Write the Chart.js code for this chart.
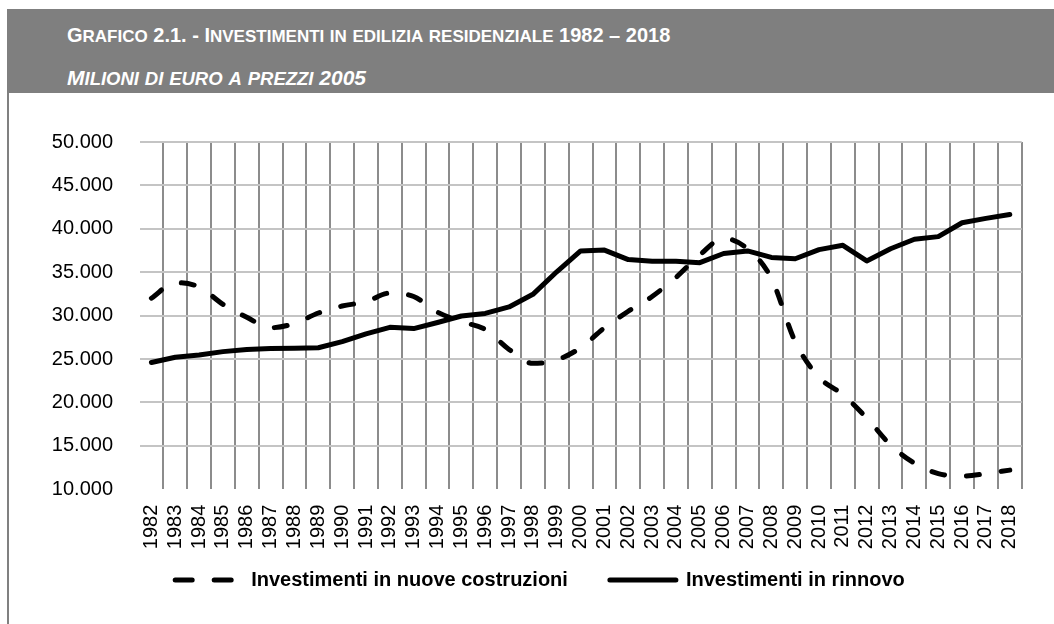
<!DOCTYPE html>
<html>
<head>
<meta charset="utf-8">
<script src="https://cdn.jsdelivr.net/npm/chart.js@4.4.1/dist/chart.umd.min.js"></script>
<style>
  body { margin: 0; background: #fff; }
  #wrap { position: absolute; left: 0; top: 0; width: 1054px; height: 624px; }
  #hdr {
    position: absolute; left: 7px; top: 9px; width: 1047px; height: 84px;
    background: #7f7f7f; color: #fff;
    font-family: "Liberation Sans", Arial, sans-serif; font-weight: bold;
  }
  #hdr .t1 { position: absolute; left: 60px; top: 16px; font-size: 20px; line-height: 20px; white-space: nowrap; }
  #hdr .t2 { position: absolute; left: 60px; top: 58px; font-size: 21px; line-height: 21px; font-style: italic; white-space: nowrap; }
  #hdr .t1 .sc { font-size: 17px; text-transform: uppercase; }
  #hdr .t2 .sc { font-size: 18.5px; text-transform: uppercase; }
  #side { position: absolute; left: 7px; top: 93px; width: 2px; height: 531px; background: #808080; }
  canvas { position: absolute; left: 0; top: 0; }
</style>
</head>
<body>
<div id="wrap">
  <canvas id="myChart" width="1054" height="624"></canvas>
  <div id="hdr">
    <div class="t1" id="title"></div>
    <div class="t2" id="subtitle"></div>
  </div>
  <div id="side"></div>
</div>
<script>
const titleText = "Grafico 2.1. - Investimenti in edilizia residenziale 1982 – 2018";
const subtitleText = "Milioni di euro a prezzi 2005";

// Categories (years)
const years = ["1982", "1983", "1984", "1985", "1986", "1987", "1988", "1989", "1990", "1991",
  "1992", "1993", "1994", "1995", "1996", "1997", "1998", "1999", "2000", "2001",
  "2002", "2003", "2004", "2005", "2006", "2007", "2008", "2009", "2010", "2011",
  "2012", "2013", "2014", "2015", "2016", "2017", "2018"];

// Milioni di euro a prezzi 2005
const nuoveCostruzioni = [32000, 33800, 33300, 31300, 29800, 28600, 29100, 30300, 31100, 31600,
  32600, 32200, 30400, 29300, 28400, 26100, 24500, 24900, 26300, 28600,
  30500, 32200, 34400, 37000, 38900, 37700, 34300, 27000, 22900, 20900,
  18200, 15100, 13000, 11800, 11500, 11800, 12200];
const rinnovo = [24600, 25200, 25450, 25850, 26100, 26200, 26250, 26300, 27000, 27900,
  28650, 28500, 29200, 29950, 30250, 31000, 32450, 35050, 37450, 37550,
  36450, 36250, 36250, 36100, 37150, 37450, 36700, 36550, 37600, 38100,
  36300, 37700, 38800, 39100, 40700, 41200, 41650];

// y axis ticks
const yMin = 10000;
const yMax = 50000;
const yStep = 5000;

const seriesNames = ["Investimenti in nuove costruzioni", "Investimenti in rinnovo"];

// small caps like the original: lowercase runs set smaller and uppercased
function fillSmallCaps(el, text) {
  const runs = text.match(/[a-zà-ù]+|[^a-zà-ù]+/g);
  runs.forEach((r) => {
    const span = document.createElement("span");
    if (/[a-zà-ù]/.test(r)) span.className = "sc";
    span.textContent = r;
    el.appendChild(span);
  });
}
fillSmallCaps(document.getElementById("title"), titleText);
fillSmallCaps(document.getElementById("subtitle"), subtitleText);

function formatThousands(v) {
  return String(v).replace(/\B(?=(\d{3})+(?!\d))/g, ".");
}

const fontFamily = '"Liberation Sans", Arial, sans-serif';

// move the legend box a little (it sits under the axis labels in the original)
const legendShift = {
  id: "legendShift",
  afterLayout(chart) {
    const l = chart.legend;
    const dx = 9.15, dy = -24;
    l.left += dx; l.right += dx;
    l.top += dy; l.bottom += dy;
  },
};

const ctx = document.getElementById("myChart").getContext("2d");
const myChart = new Chart(ctx, {
  type: "line",
  data: {
    labels: years,
    datasets: [
      {
        label: seriesNames[0],
        data: nuoveCostruzioni,
        borderColor: "#000",
        backgroundColor: "#000",
        borderWidth: 5,
        borderDash: [13, 22],
        borderCapStyle: "round",
        borderJoinStyle: "round",
        cubicInterpolationMode: "monotone",
        pointRadius: 0,
        fill: false,
      },
      {
        label: seriesNames[1],
        data: rinnovo,
        borderColor: "#000",
        backgroundColor: "#000",
        borderWidth: 5,
        borderCapStyle: "round",
        borderJoinStyle: "round",
        tension: 0,
        pointRadius: 0,
        fill: false,
      },
    ],
  },
  plugins: [legendShift],
  options: {
    responsive: false,
    animation: false,
    devicePixelRatio: 1,
    layout: {
      padding: { top: 142, right: 32.3, bottom: 0, left: 40 },
    },
    plugins: {
      tooltip: { enabled: false },
      legend: {
        position: "bottom",
        labels: {
          usePointStyle: true,
          pointStyle: "line",
          pointStyleWidth: 66,
          padding: 42,
          color: "#000",
          font: { family: fontFamily, size: 20, weight: "bold" },
          generateLabels: (chart) => {
            const items = Chart.defaults.plugins.legend.labels.generateLabels(chart);
            items.forEach((it) => {
              const ds = chart.data.datasets[it.datasetIndex];
              it.lineDash = ds.borderDash ? [17, 22] : [];
              it.lineCap = "round";
              it.lineWidth = 5;
            });
            return items;
          },
        },
      },
    },
    scales: {
      x: {
        offset: true,
        border: { display: false },
        grid: {
          offset: true,
          drawTicks: false,
          lineWidth: 2,
          color: (c) => {
            if (c.index === 0) return "rgba(0,0,0,0)";
            if (c.index === years.length) return "#c4c4c4";
            return "#8c8c8c";
          },
        },
        ticks: {
          autoSkip: false,
          minRotation: 90,
          maxRotation: 90,
          padding: 15.5,
          color: "#000",
          font: { family: fontFamily, size: 20 },
        },
        afterFit: (scale) => {
          scale.height = 62.8;
        },
      },
      y: {
        min: yMin,
        max: yMax,
        border: { display: false },
        grid: {
          drawTicks: false,
          lineWidth: 2,
          color: (c) => (c.tick && c.tick.value === yMin ? "rgba(0,0,0,0)" : "#c4c4c4"),
        },
        ticks: {
          stepSize: yStep,
          padding: 26.5,
          color: "#000",
          font: { family: fontFamily, size: 20 },
          callback: (v) => formatThousands(v),
        },
        afterFit: (scale) => {
          scale.width = 99.5;
        },
      },
    },
  },
});
</script>
</body>
</html>
